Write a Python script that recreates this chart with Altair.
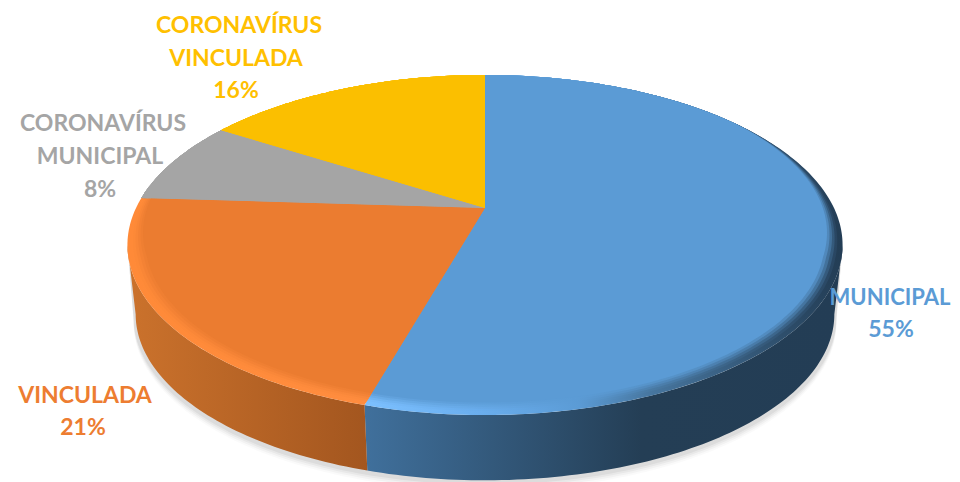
import math
import altair as alt
import pandas as pd

# Data
categories = ["MUNICIPAL", "VINCULADA", "CORONAVÍRUS MUNICIPAL", "CORONAVÍRUS VINCULADA"]
shares = [54.4, 21.6, 8.0, 16.0]
face_colors = ["#5B9BD5", "#EB7C30", "#A5A5A5", "#FBBF00"]
label_lines = ["CORONAVÍRUS", "VINCULADA", "16%",
               "CORONAVÍRUS", "MUNICIPAL", "8%",
               "MUNICIPAL", "55%",
               "VINCULADA", "21%"]
label_colors = ["#FFC000"] * 3 + ["#A5A5A5"] * 3 + ["#5B9BD5"] * 2 + ["#ED7D31"] * 2

# Picture geometry
label_anchor_x = [239, 236, 236, 103, 100, 100, 890, 891, 85, 83]
label_anchor_y = [26, 59, 91, 124, 157, 190, 298, 330, 396, 428]
label_font_size = [23, 23, 23, 23, 23, 23, 22, 23, 23, 23]
CX, CY, A, B, K = 485.0, 208.0, 349.0, 162.0, 0.2176
WALL_SCALE, WALL_DROP = 0.977, 70.0
TANGENT = math.degrees(math.acos(-K))


def rim_point(t_deg, r=1.0, scale=1.0, drop=0.0):
    t = math.radians(t_deg)
    # the bevel is wide at the front and sides and vanishes at the back
    f = min(1.0, max(0.0, (0.6 - math.cos(t)) / 0.9))
    rr = 1 - (1 - r) * f
    u, v = rr * math.sin(t), rr * math.cos(t)
    d = 1 + K * v
    return CX + scale * A * u / d, CY + drop - scale * B * v / d


def arc_points(t0, t1, **kw):
    n = max(2, int(abs(t1 - t0)) + 1)
    return [rim_point(t0 + (t1 - t0) * i / (n - 1), **kw) for i in range(n)]


def polygon(points, fill, opacity=1.0):
    df = pd.DataFrame(points, columns=["x", "y"])
    df["i"] = range(len(df))
    return alt.Chart(df).mark_line(
        interpolate="linear-closed", fill=fill, strokeWidth=0, fillOpacity=opacity
    ).encode(
        x=alt.X("x:Q", scale=X_SCALE, axis=None),
        y=alt.Y("y:Q", scale=Y_SCALE, axis=None),
        order=alt.Order("i:Q"),
    )


def h_gradient(stops):
    return alt.Gradient(
        gradient="linear", x1=0, x2=1, y1=0, y2=0,
        stops=[alt.GradientStop(offset=o, color=c) for o, c in stops],
    )


def mix(c1, c2, f):
    a = [int(c1[i:i + 2], 16) for i in (1, 3, 5)]
    b = [int(c2[i:i + 2], 16) for i in (1, 3, 5)]
    return "#" + "".join(f"{round(p + (q - p) * f):02x}" for p, q in zip(a, b))


X_SCALE = alt.Scale(domain=[8, 952], nice=False, zero=False)
Y_SCALE = alt.Scale(domain=[8, 482], nice=False, zero=False, reverse=True)

edges = [0.0]
for s in shares:
    edges.append(edges[-1] + s * 3.6)

layers = []

# soft ground shadow: the body outline, pushed down a little
for off, op in [(9, 0.02), (7, 0.03), (5, 0.04), (3, 0.05)]:
    top = arc_points(TANGENT, 360 - TANGENT)
    bottom = arc_points(360 - TANGENT, TANGENT, scale=WALL_SCALE * 1.006, drop=WALL_DROP + off)
    layers.append(polygon(top + bottom, "#000000", op))

# side wall of the two front slices, out to the tangents of the outline
wall_spans = {0: (TANGENT, edges[1]), 1: (edges[1], 360 - TANGENT)}
wall_grads = {
    0: h_gradient([(0, "#40709C"), (0.58, "#243E55"), (1, "#233D55")]),
    1: h_gradient([(0, "#CB722C"), (1, "#A3561F")]),
}
for idx, grad in wall_grads.items():
    t0, t1 = wall_spans[idx]
    top = arc_points(t0, t1)
    bottom = arc_points(t1, t0, scale=WALL_SCALE, drop=WALL_DROP)
    layers.append(polygon(top + bottom, grad))

# top face with a bevel built from nested sectors
rim_stops = {
    0: [(0, "#7CC0FF"), (0.24, "#6AAEEE"), (0.45, "#5B9BD5"), (0.60, "#47769F"), (1, "#233D55")],
    1: [(0, "#FF8A38"), (1, "#FF8E42")],
}
bevel = [(1.0, 1.0), (0.992, 1.0), (0.984, 0.9), (0.976, 0.7), (0.968, 0.45), (0.96, 0.2), (0.952, 0.0)]
for r, strength in bevel:
    for idx, color in enumerate(face_colors):
        pts = arc_points(edges[idx], edges[idx + 1], r=r if idx < 2 else 1.0) + [(CX, CY)]
        if strength == 0 or idx >= 2:
            fill = color
        else:
            fill = h_gradient([(o, mix(color, c, strength)) for o, c in rim_stops[idx]])
        layers.append(polygon(pts, fill))

labels = pd.DataFrame({
    "x": label_anchor_x, "y": label_anchor_y,
    "text": label_lines, "color": label_colors, "size": label_font_size,
})
for size_value, part in labels.groupby("size"):
    layers.append(
        alt.Chart(part).mark_text(
            font="Lato", fontWeight="bold", fontSize=int(size_value), align="center", baseline="middle"
        ).encode(
            x=alt.X("x:Q", scale=X_SCALE, axis=None),
            y=alt.Y("y:Q", scale=Y_SCALE, axis=None),
            text="text:N",
            color=alt.Color("color:N", scale=None),
        )
    )

chart = alt.layer(*layers).properties(
    width=944, height=474, padding=0, background="white",
    autosize=alt.AutoSizeParams(type="none"),
).configure_view(stroke=None)

chart.save("out.html", embed_options={"renderer": "svg", "actions": False})
